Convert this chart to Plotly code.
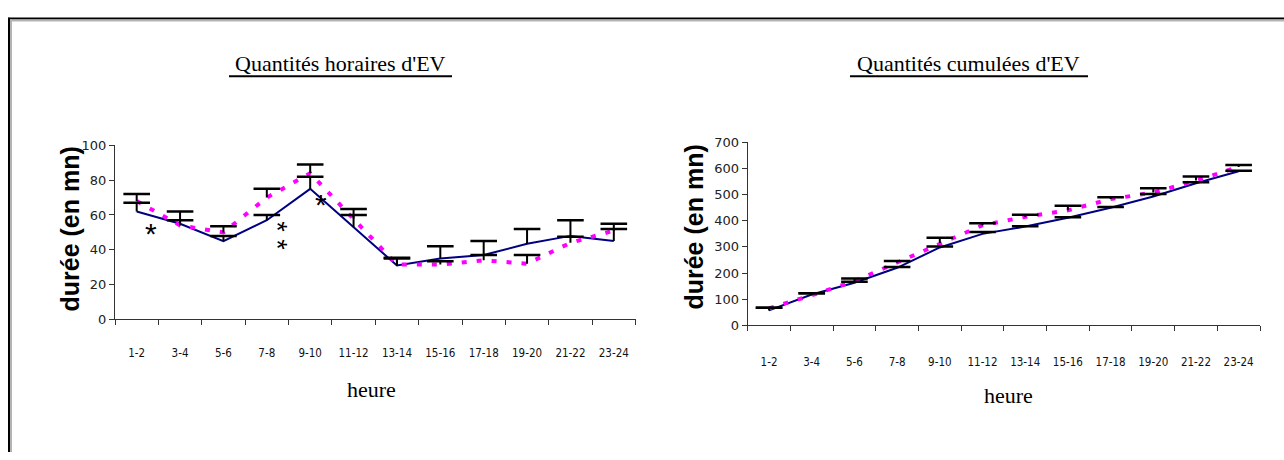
import plotly.graph_objects as go

# Hour slots shared by both panels
heures = ["1-2", "3-4", "5-6", "7-8", "9-10", "11-12",
          "13-14", "15-16", "17-18", "19-20", "21-22", "23-24"]

# Hourly quantities (minutes) and their positive error bars
horaire_bleu = [62, 55, 45, 57, 75, 53, 31, 35, 37, 43.5, 48, 45]
horaire_bleu_err = [5, 7, 3, 3, 7, 7, 4.5, 7, 8, 8.5, 9, 10]
horaire_rose = [68, 54, 50, 70, 84, 58, 31.5, 31.5, 34, 32, 44, 51]
horaire_rose_err = [4, 3, 3.5, 5, 5, 5.5, 3.5, 2, 3, 5, 3.5, 1]

# Cumulative quantities (minutes) and their positive error bars
cumul_bleu = [57, 118, 163, 220, 298, 350, 378, 412, 450, 493, 544, 590]
cumul_bleu_err = [10, 5, 4, 3, 4, 7, 1, 2, 3, 10, 4, 2]
cumul_rose = [65, 115, 169, 240, 315, 383, 415, 440, 483, 508, 554, 606]
cumul_rose_err = [2, 8, 10, 6, 20, 8, 8, 18, 7, 17, 16, 8]

# Axis tick values
ticks_horaire = [0, 20, 40, 60, 80, 100]
ticks_cumul = [0, 100, 200, 300, 400, 500, 600, 700]

W, H = 1284, 460


def fx(px):
    return px / W


def fy(py):
    return 1 - py / H


NAVY = "#000080"
PINK = "#FF00FF"

fig = go.Figure()


def add_panel(xa, ya, bleu, bleu_err, rose, rose_err):
    # the two series
    fig.add_trace(go.Scatter(x=heures, y=bleu, mode="lines", xaxis=xa, yaxis=ya,
                             line=dict(color=NAVY, width=2)))
    fig.add_trace(go.Scatter(x=heures, y=rose, mode="lines", xaxis=xa, yaxis=ya,
                             line=dict(color=PINK, width=4, dash="5px,10px")))
    # plus-only error bars: a stem from the value, a single cap on top
    for vals, errs in ((bleu, bleu_err), (rose, rose_err)):
        fig.add_trace(go.Scatter(
            x=heures, y=vals, mode="markers", xaxis=xa, yaxis=ya,
            marker=dict(size=1, color="rgba(0,0,0,0)"),
            error_y=dict(type="data", array=errs, arrayminus=[0] * len(errs),
                         symmetric=False, width=0, thickness=2, color="black")))
        fig.add_trace(go.Scatter(
            x=heures, y=[v + e for v, e in zip(vals, errs)], mode="markers",
            xaxis=xa, yaxis=ya,
            marker=dict(symbol="line-ew-open", size=19, color="black",
                        line=dict(color="black", width=2.5))))


add_panel("x", "y", horaire_bleu, horaire_bleu_err, horaire_rose, horaire_rose_err)
add_panel("x2", "y2", cumul_bleu, cumul_bleu_err, cumul_rose, cumul_rose_err)

axis_line = "#333333"
xcommon = dict(type="category", range=[-0.5, len(heures) - 0.5], autorange=False,
               tickson="boundaries", ticks="outside", ticklen=5,
               tickcolor=axis_line, showline=True, linecolor=axis_line, linewidth=1,
               showgrid=False, zeroline=False,
               tickfont=dict(family="Liberation Sans Narrow, DejaVu Sans Condensed, DejaVu Sans",
                             size=11.5, color="#111111"))
ycommon = dict(ticks="outside", ticklen=5, tickcolor=axis_line, showline=True,
               linecolor=axis_line, linewidth=1, showgrid=False, zeroline=False,
               tickfont=dict(family="DejaVu Sans", size=13, color="#222222"))

fig.update_layout(
    width=W, height=H, autosize=False,
    margin=dict(l=0, r=0, t=0, b=0),
    paper_bgcolor="white", plot_bgcolor="white",
    showlegend=False,
    xaxis=dict(domain=[fx(115), fx(635.5)], anchor="y", ticklabelstandoff=23, **xcommon),
    yaxis=dict(domain=[fy(323), fy(143)], anchor="x", range=[0, 100],
               tickvals=ticks_horaire, **ycommon),
    xaxis2=dict(domain=[fx(747.7), fx(1260)], anchor="y2", ticklabelstandoff=26, **xcommon),
    yaxis2=dict(domain=[fy(329), fy(140)], anchor="x2", range=[0, 700],
                tickvals=ticks_cumul, **ycommon),
)

serif = "Liberation Serif"
annotations = []
# panel titles
for txt, cx in (("Quantités horaires d'EV", 340.5), ("Quantités cumulées d'EV", 969)):
    annotations.append(dict(text=txt, x=fx(cx), y=fy(58), xref="paper", yref="paper",
                            showarrow=False, xanchor="center", yanchor="middle",
                            font=dict(family=serif, size=22, color="black")))
# x-axis titles
for cx, cy in ((372, 395), (1008, 402)):
    annotations.append(dict(text="heure", x=fx(cx), y=fy(cy), xref="paper", yref="paper",
                            showarrow=False, xanchor="center", yanchor="middle",
                            font=dict(family=serif, size=22, color="black")))
# y-axis titles
for cx, cy in ((69, 230), (694, 228)):
    annotations.append(dict(text="durée (en mn)", x=fx(cx), y=fy(cy), xref="paper",
                            yref="paper", textangle=-90, showarrow=False,
                            xanchor="center", yanchor="middle",
                            font=dict(family="Liberation Sans", size=25, color="black",
                                      weight="bold")))
# significance marks
for txt, cx, cy, ang, sz in (("*", 151, 234, 0, 30), ("* *", 277, 236, 90, 27),
                             ("*", 321, 204, 0, 30)):
    annotations.append(dict(text=txt, x=fx(cx), y=fy(cy), xref="paper", yref="paper",
                            showarrow=False, xanchor="center", yanchor="middle",
                            textangle=ang,
                            font=dict(family="Liberation Sans", size=sz, color="black")))
fig.update_layout(annotations=annotations)

shapes = []
# title underlines
for x0, x1 in ((229, 452), (850, 1088)):
    shapes.append(dict(type="line", xref="paper", yref="paper",
                       x0=fx(x0), x1=fx(x1), y0=fy(71.5), y1=fy(71.5),
                       line=dict(color="black", width=2)))
# outer frame (black edge with grey inner shadow)
shapes += [
    dict(type="line", xref="paper", yref="paper", x0=fx(8), x1=1, y0=fy(12), y1=fy(12),
         line=dict(color="black", width=2)),
    dict(type="line", xref="paper", yref="paper", x0=fx(10), x1=1, y0=fy(14), y1=fy(14),
         line=dict(color="#b4b4b4", width=2)),
    dict(type="line", xref="paper", yref="paper", x0=fx(9), x1=fx(9), y0=fy(11), y1=0,
         line=dict(color="black", width=2)),
    dict(type="line", xref="paper", yref="paper", x0=fx(11), x1=fx(11), y0=fy(13), y1=0,
         line=dict(color="#b4b4b4", width=2)),
]
fig.update_layout(shapes=shapes)

fig.write_html("out.html")
